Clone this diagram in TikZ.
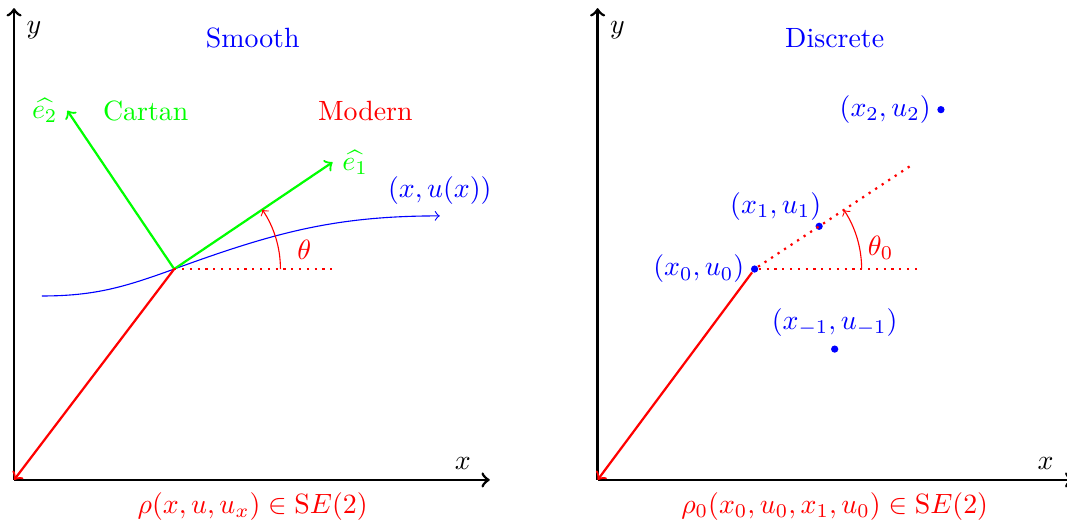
\documentclass[tikz,border=0pt]{standalone}
\usepackage{amsmath}
\usetikzlibrary{positioning, calc}

\begin{document}
\begin{tikzpicture}[
    axis/.style={->, line width=1pt},
    vec/.style={->, thick, green},
    lift/.style={->, thick, red},
    ref/.style={red, thick, dotted},
    dot/.style={circle, fill=blue, inner sep=0pt, minimum size=2.6pt},
    pt/.style={text=blue, inner sep=2pt},
    node distance=2pt]
  \useasboundingbox (-0.177,-0.593) rectangle (13.28,6.053);

  % smooth picture
  \coordinate (O) at (0,0);
  \coordinate (Y) at (0,5.95);
  \coordinate (X) at (6,0);
  \draw[axis] (O) -- (Y);
  \draw[axis] (O) -- (X);
  \node (ylab) at (0.25,5.67) {$y$};
  \node (xlab) at (5.66,0.21) {$x$};
  \node[blue] (smooth) at (3.01,5.57) {Smooth};
  \node[green] (cartan) at (1.66,4.65) {Cartan};
  \node[red] (modern) at (4.43,4.65) {Modern};

  \coordinate (F) at (2.02,2.66);
  \coordinate (e1) at ($(F)+(34:2.41)$);
  \coordinate (e2) at ($(F)+(124:2.41)$);
  \coordinate (c0) at (0.35,2.32);
  \coordinate (c1) at (5.37,3.33);
  \coordinate (h) at (4.02,2.66);

  \draw[blue,->] (c0) to[out=0,in=200] (F) to[out=20,in=180] (c1);
  \node[pt, above=2pt of c1] (curve) {$(x,u(x))$};
  \draw[vec] (F) -- (e1);
  \draw[vec] (F) -- (e2);
  \node[green, right=0pt of e1] (e1lab) {$\widehat{e_1}$};
  \node[green, left=0pt of e2] (e2lab) {$\widehat{e_2}$};
  \draw[ref] (F) -- (h);
  \draw[red,->] ($(F)+(1.34,0)$) arc (0:34:1.34);
  \node[red] (theta) at (3.66,2.90) {$\theta$};
  \draw[lift] (F) -- (O);
  \node[red] (rho) at (3.01,-0.33) {$\rho(x,u,u_x)\in\mathrm{S}E(2)$};

  % discrete picture
  \begin{scope}[xshift=7.36cm]
    \coordinate (O2) at (0,0);
    \coordinate (Y2) at (0,5.95);
    \coordinate (X2) at (6,0);
    \draw[axis] (O2) -- (Y2);
    \draw[axis] (O2) -- (X2);
    \node (ylab2) at (0.25,5.67) {$y$};
    \node (xlab2) at (5.65,0.21) {$x$};
    \node[blue] (discrete) at (2.99,5.57) {Discrete};

    \node[dot] (p0) at (1.98,2.66) {};
    \node[dot] (p1) at ($(p0)+(33.5:0.976)$) {};
    \node[dot] (p2) at (4.33,4.67) {};
    \node[dot] (pm) at (2.99,1.65) {};
    \coordinate (d1) at ($(p0)+(33.5:2.4)$);
    \coordinate (h2) at (4.05,2.66);

    \draw[ref] (p0) -- (d1);
    \draw[ref] (p0) -- (h2);
    \draw[red,->] ($(p0)+(1.35,0)$) arc (0:33.5:1.35);
    \node[red] (theta0) at (3.57,2.93) {$\theta_0$};
    \draw[lift] (p0) -- (O2);

    \node[pt, left=0pt of p0] (p0lab) {$(x_0,u_0)$};
    \node[pt, above left=-1pt and -4pt of p1] (p1lab) {$(x_1,u_1)$};
    \node[pt, left=0pt of p2] (p2lab) {$(x_2,u_2)$};
    \node[pt, above=1pt of pm] (pmlab) {$(x_{-1},u_{-1})$};
    \node[red] (rho0) at (2.99,-0.33) {$\rho_0(x_0,u_0,x_1,u_0)\in\mathrm{S}E(2)$};
  \end{scope}
\end{tikzpicture}
\end{document}
